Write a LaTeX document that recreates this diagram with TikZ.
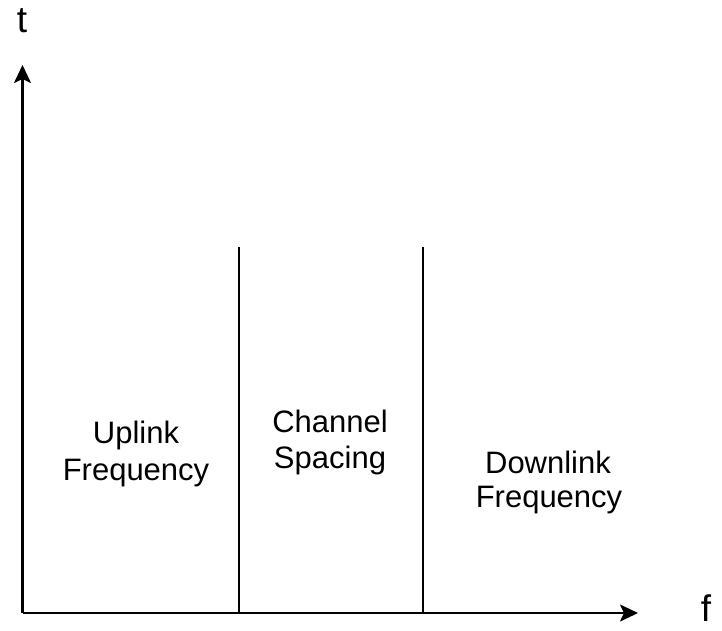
\documentclass[tikz,border=0pt]{standalone}
\usepackage{fontspec}
\setmainfont{Liberation Sans}
\usetikzlibrary{arrows.meta}
\begin{document}
\begin{tikzpicture}[x=1pt,y=-1pt,
  axis/.style={line width=2.2pt,-{Stealth[length=18pt,width=17pt,inset=4pt]}},
  divider/.style={line width=1.8pt},
  band/.style={font=\fontsize{31}{37}\selectfont,anchor=base,inner sep=0pt},
  axislabel/.style={font=\fontsize{37}{44}\selectfont,anchor=base,inner sep=0pt}]
  \useasboundingbox (0,0) rectangle (722,630);
  % axes
  \coordinate (o) at (22.5,613);
  \coordinate (tend) at (22.5,65);
  \coordinate (fend) at (638,613);
  \draw[axis] (o) -- (tend);
  \draw[axis] (o) -- (fend);
  \node[axislabel] (tlab) at (22,32) {t};
  \node[axislabel] (flab) at (706,621) {f};
  % band dividers
  \coordinate (d1top) at (239,247);
  \coordinate (d1bot) at (239,613);
  \coordinate (d2top) at (423,247);
  \coordinate (d2bot) at (423,613);
  \draw[divider] (d1top) -- (d1bot);
  \draw[divider] (d2top) -- (d2bot);
  % band labels
  \node[band] (up1) at (136,443) {Uplink};
  \node[band] (up2) at (136,480) {Frequency};
  \node[band] (ch1) at (330,432) {Channel};
  \node[band] (ch2) at (330,468) {Spacing};
  \node[band] (dn1) at (548,473) {Downlink};
  \node[band] (dn2) at (549,507) {Frequency};
\end{tikzpicture}
\end{document}
